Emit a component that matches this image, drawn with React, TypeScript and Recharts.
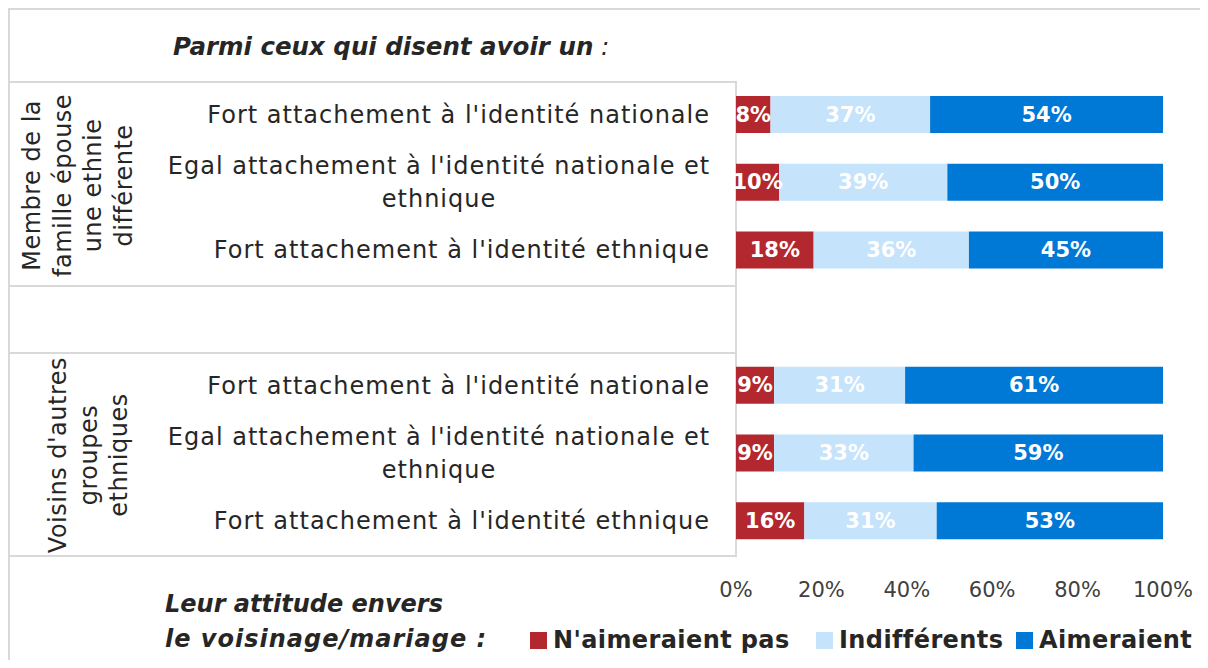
import { BarChart, Bar, XAxis, YAxis, LabelList } from 'recharts';

const categories = [
  ["Fort attachement à l'identité nationale"],
  ["Egal attachement à l'identité nationale et", 'ethnique'],
  ["Fort attachement à l'identité ethnique"],
  [],
  ["Fort attachement à l'identité nationale"],
  ["Egal attachement à l'identité nationale et", 'ethnique'],
  ["Fort attachement à l'identité ethnique"],
];
const nAimeraientPas = [8, 10, 18, null, 9, 9, 16];
const indifferents = [37, 39, 36, null, 31, 33, 31];
const aimeraient = [54, 50, 45, null, 61, 59, 53];
const xTicks = [0, 0.2, 0.4, 0.6, 0.8, 1];

const groups = [
  { lines: ['Membre de la', 'famille épouse', 'une ethnie', 'différente'], cx: 68, cy: 175 },
  { lines: ["Voisins d'autres", 'groupes', 'ethniques'], cx: 79, cy: 445 },
];

const series = [
  { key: 'pas', name: "N'aimeraient pas", color: '#B3282E', values: nAimeraientPas, lx: 520 },
  { key: 'indif', name: 'Indifférents', color: '#C5E3FB', values: indifferents, lx: 806 },
  { key: 'aime', name: 'Aimeraient', color: '#0078D6', values: aimeraient, lx: 1006 },
];

const data = categories.map((lines, i) => ({
  cat: String(i),
  lines,
  pas: nAimeraientPas[i],
  indif: indifferents[i],
  aime: aimeraient[i],
}));

const FONT = '"DejaVu Sans", sans-serif';
const GRID = '#D9D9D9';
const TEXT = '#262626';

const CatTick = (props: any) => {
  const row = data[Number(props.payload.value)];
  if (!row || row.lines.length === 0) return null;
  const y = props.y;
  if (row.lines.length === 1) {
    return (
      <text x={702} y={y} textAnchor="end" dominantBaseline="central" fontSize={24} letterSpacing={1} fill={TEXT} fontFamily={FONT}>
        {row.lines[0]}
      </text>
    );
  }
  return (
    <g>
      {row.lines.map((l: string, k: number) => (
        <text key={k} x={431} y={y + (k - (row.lines.length - 1) / 2) * 33} textAnchor="middle" dominantBaseline="central" fontSize={24} letterSpacing={1} fill={TEXT} fontFamily={FONT}>
          {l}
        </text>
      ))}
    </g>
  );
};

const PctTick = (props: any) => (
  <text x={props.x} y={props.y + 27} textAnchor="middle" dominantBaseline="central" fontSize={21} fill="#404040" fontFamily={FONT}>
    {Math.round(props.payload.value * 100)}%
  </text>
);

// the label list skips empty rows, so index into the non-empty values
const makeLabel = (values: (number | null)[]) => {
  const shown = values.filter((v) => v != null);
  return (props: any) => {
    const v = shown[props.index];
    if (v == null) return null;
    return (
      <text x={props.x + props.width / 2} y={props.y + props.height / 2} textAnchor="middle" dominantBaseline="central" fontSize={21} fontWeight="bold" fill="#FFFFFF" fontFamily={FONT}>
        {v}%
      </text>
    );
  };
};

const line = (style: any) => <div style={{ position: 'absolute', background: GRID, ...style }} />;

export default function App() {
  return (
    <div style={{ position: 'relative', width: 1200, height: 652, borderTop: `2px solid ${GRID}`, borderLeft: `2px solid ${GRID}`, boxSizing: 'border-box', fontFamily: FONT, color: TEXT }}>
      {/* table lines around the category labels */}
      {line({ left: 0, top: 71, width: 727, height: 2 })}
      {line({ left: 0, top: 275, width: 727, height: 2 })}
      {line({ left: 0, top: 342, width: 727, height: 2 })}
      {line({ left: 0, top: 545, width: 727, height: 2 })}
      {line({ left: 725, top: 71, width: 2, height: 476 })}

      <div style={{ position: 'absolute', left: 163, top: 20, fontSize: 24.5, fontStyle: 'italic', lineHeight: '34px', whiteSpace: 'nowrap' }}>
        <b>Parmi ceux qui disent avoir un</b> :
      </div>

      {groups.map((g) => (
        <div
          key={g.lines[0]}
          style={{
            position: 'absolute',
            left: g.cx - 110,
            top: g.cy - (g.lines.length * 30.7) / 2,
            width: 220,
            height: g.lines.length * 30.7,
            lineHeight: '30.7px',
            fontSize: 24,
            letterSpacing: 0.5,
            textAlign: 'center',
            whiteSpace: 'nowrap',
            transform: 'rotate(-90deg)',
          }}
        >
          {g.lines.map((l) => (
            <div key={l}>{l}</div>
          ))}
        </div>
      ))}

      <div style={{ position: 'absolute', left: -2, top: -2 }}>
        <BarChart width={1200} height={652} data={data} layout="vertical" stackOffset="expand" barSize={37} margin={{ top: 73, right: 45, bottom: 65, left: 0 }}>
          <XAxis type="number" domain={[0, 1]} ticks={xTicks} axisLine={false} tickLine={false} tick={<PctTick />} height={40} />
          <YAxis type="category" dataKey="cat" width={728} axisLine={false} tickLine={false} tick={<CatTick />} interval={0} />
          {series.map((s) => (
            <Bar key={s.key} dataKey={s.key} name={s.name} stackId="a" fill={s.color} isAnimationActive={false}>
              <LabelList dataKey={s.key} content={makeLabel(s.values)} />
            </Bar>
          ))}
        </BarChart>
      </div>

      <div style={{ position: 'absolute', left: 155, top: 577, fontSize: 24, fontStyle: 'italic', fontWeight: 'bold', lineHeight: '35px', whiteSpace: 'nowrap' }}>
        <div>Leur attitude envers</div>
        <div style={{ letterSpacing: 1 }}>le voisinage/mariage :</div>
      </div>

      {series.map((s) => (
        <div key={s.key} style={{ position: 'absolute', left: s.lx, top: 613, height: 34, display: 'flex', alignItems: 'center', fontSize: 24, fontWeight: 'bold', letterSpacing: 0.4, whiteSpace: 'nowrap' }}>
          <div style={{ width: 17, height: 17, background: s.color, marginRight: 6 }} />
          <span>{s.name}</span>
        </div>
      ))}
    </div>
  );
}
